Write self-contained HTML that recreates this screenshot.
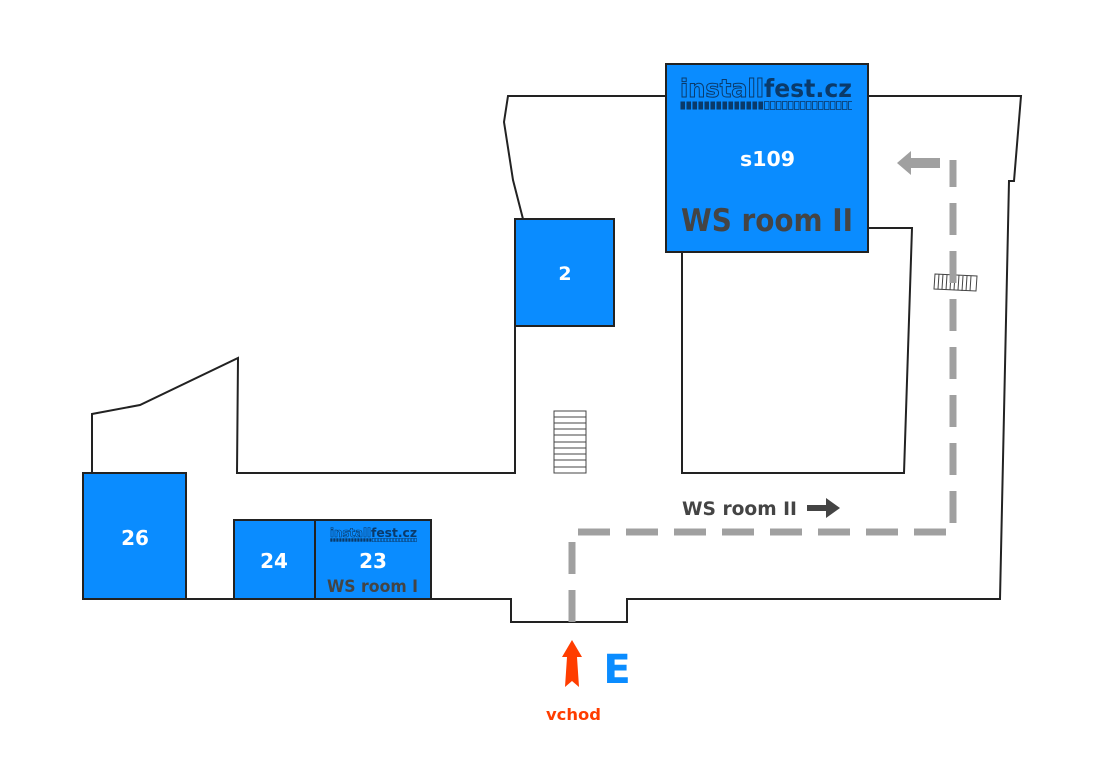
<!DOCTYPE html>
<html><head><meta charset="utf-8"><style>
html,body{margin:0;padding:0;background:#fff;}
svg{display:block;}
text{font-family:"DejaVu Sans","Liberation Sans",sans-serif;font-weight:bold;}
</style></head><body>
<svg width="1107" height="778" viewBox="0 0 1107 778" xmlns="http://www.w3.org/2000/svg">
<defs>
<pattern id="sqF" x="680" y="101" width="6" height="9" patternUnits="userSpaceOnUse"><rect x="0.5" y="0.5" width="4.5" height="8" fill="#0a3a6a"/></pattern>
<pattern id="sqO" x="680" y="101" width="6" height="9" patternUnits="userSpaceOnUse"><rect x="0.5" y="0.5" width="4.5" height="8" fill="none" stroke="#0a3a6a" stroke-width="0.8"/></pattern>
<pattern id="sqF2" x="330" y="538" width="3" height="4" patternUnits="userSpaceOnUse"><rect x="0.3" y="0.3" width="2.2" height="3.4" fill="#0a3a6a"/></pattern>
<pattern id="sqO2" x="330" y="538" width="3" height="4" patternUnits="userSpaceOnUse"><rect x="0.3" y="0.3" width="2.2" height="3.4" fill="none" stroke="#0a3a6a" stroke-width="0.5"/></pattern>
</defs>
<g fill="none" stroke="#222" stroke-width="2">
<polyline points="92,473 92,414 140,405 238,358 237,473 515,473 515,326"/>
<polyline points="523,219 513,180 504,122 508,96 666,96"/>
<polyline points="868,96 1021,96 1014,181 1009,181 1000,599 627,599 627,622 511,622 511,599 431,599"/>
<polyline points="186,599 234,599"/>
<polyline points="868,228 912,228 904,473 682,473 682,252"/>
</g>
<g stroke="#444" stroke-width="1" fill="none">
<rect x="554" y="411" width="32" height="62"/>
<path d="M554 417H586M554 423H586M554 429H586M554 435H586M554 442H586M554 448H586M554 454H586M554 460H586M554 467H586"/>
<path d="M935 274L977 276L976 291L934 289Z"/>
<path d="M939 274L938 289M943 274L942 289M947 275L946 290M951 275L950 290M955 275L954 290M959 275L958 290M963 276L962 291M967 276L966 291M971 276L970 291"/>
</g>
<g stroke="#a0a0a0" stroke-width="7" fill="none" stroke-dasharray="32,16">
<polyline points="572,622 572,532 953,532 953,160"/>
</g>
<path d="M909 163H940" stroke="#a0a0a0" stroke-width="10"/>
<polygon points="897,163 911,151 911,175" fill="#a0a0a0"/>
<g stroke="#222" stroke-width="2" fill="#0a8cff">
<rect x="666" y="64" width="202" height="188"/>
<rect x="515" y="219" width="99" height="107"/>
<rect x="83" y="473" width="103" height="126"/>
<rect x="234" y="520" width="81" height="79"/>
<rect x="315" y="520" width="116" height="79"/>
</g>
<text x="680" y="97" font-size="25" fill="none" stroke="#0a3a6a" stroke-width="1" font-family="Liberation Mono,monospace" textLength="84" lengthAdjust="spacingAndGlyphs">install</text>
<text x="764" y="97" font-size="25" fill="#0a3a6a" font-family="Liberation Mono,monospace" textLength="88" lengthAdjust="spacingAndGlyphs">fest.cz</text>
<rect x="680" y="101" width="84" height="9" fill="url(#sqF)"/>
<rect x="764" y="101" width="88" height="9" fill="url(#sqO)"/>
<text x="740" y="166" font-size="20" fill="#fff" textLength="55" lengthAdjust="spacingAndGlyphs">s109</text>
<text x="681" y="231" font-size="31" fill="#444" textLength="172" lengthAdjust="spacingAndGlyphs">WS room II</text>
<text x="330" y="537" font-size="12" fill="none" stroke="#0a3a6a" stroke-width="0.6" font-family="Liberation Mono,monospace" textLength="41" lengthAdjust="spacingAndGlyphs">install</text>
<text x="371" y="537" font-size="12" fill="#0a3a6a" font-family="Liberation Mono,monospace" textLength="46" lengthAdjust="spacingAndGlyphs">fest.cz</text>
<rect x="330" y="538" width="42" height="4" fill="url(#sqF2)"/>
<rect x="372" y="538" width="45" height="4" fill="url(#sqO2)"/>
<text x="373" y="568" font-size="20" fill="#fff" text-anchor="middle">23</text>
<text x="327" y="592" font-size="17" fill="#444" textLength="91" lengthAdjust="spacingAndGlyphs">WS room I</text>
<text x="274" y="568" font-size="20" fill="#fff" text-anchor="middle">24</text>
<text x="135" y="545" font-size="20" fill="#fff" text-anchor="middle">26</text>
<text x="565" y="280" font-size="19" fill="#fff" text-anchor="middle">2</text>
<text x="682" y="515" font-size="19" fill="#444" textLength="115" lengthAdjust="spacingAndGlyphs">WS room II</text>
<path d="M807 508H828" stroke="#444" stroke-width="6"/>
<polygon points="840,508 826,498 826,518" fill="#444"/>
<polygon points="572,640 582,657 577,657 579,687 572,681 565,687 567,657 562,657" fill="#ff3d00"/>
<text x="546" y="720" font-size="16" fill="#ff3d00" textLength="55" lengthAdjust="spacingAndGlyphs">vchod</text>
<text x="617" y="683" font-size="40" fill="#0a8cff" text-anchor="middle">E</text>
</svg>
</body></html>
